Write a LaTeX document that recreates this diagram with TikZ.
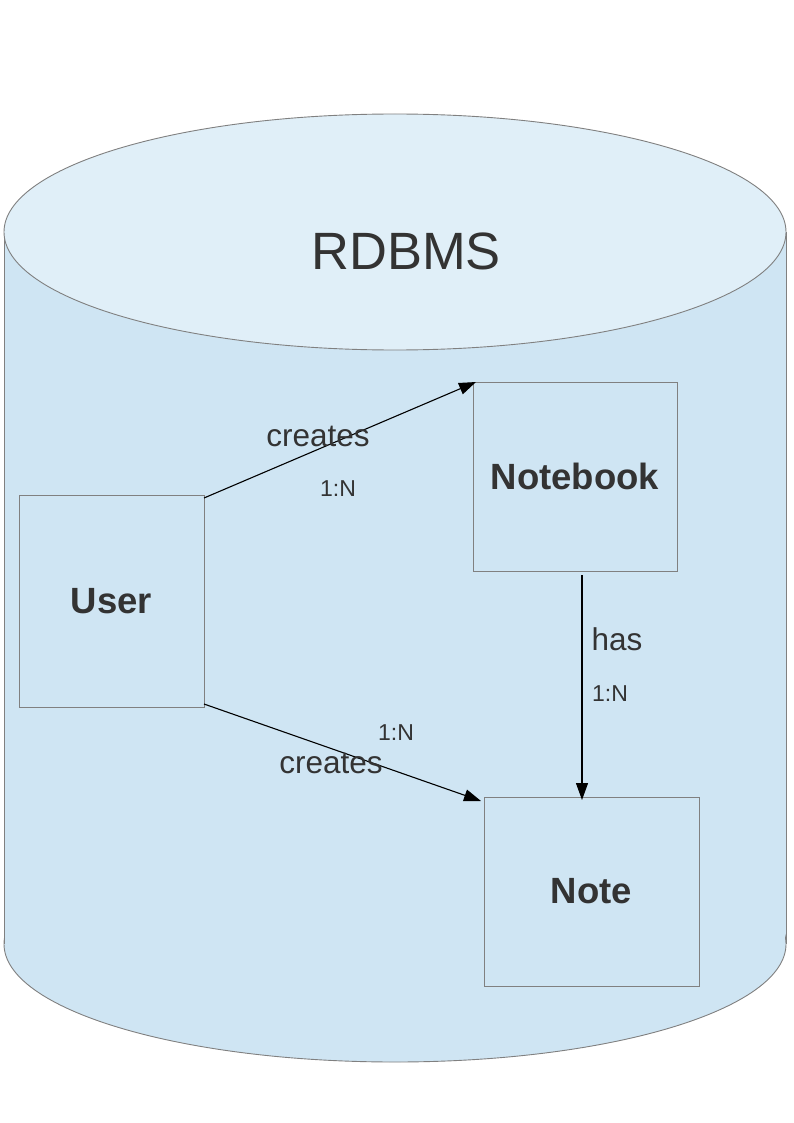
\documentclass[tikz,border=0pt]{standalone}
\usepackage{fontspec}
\setmainfont{Liberation Sans}
\usetikzlibrary{arrows.meta}
\definecolor{bodyblue}{HTML}{CFE5F3}
\definecolor{topblue}{HTML}{E0EFF8}
\definecolor{edgegray}{HTML}{808080}
\definecolor{txt}{HTML}{333333}
\tikzset{
  entity/.style={draw=edgegray, line width=0.9pt, fill=bodyblue, inner sep=0pt, outer sep=0pt,
    text=txt, font=\fontsize{36.5}{40}\selectfont\bfseries},
  lbl/.style={text=txt, inner sep=0pt, font=\fontsize{31.5}{36}\selectfont},
  card/.style={text=txt, inner sep=0pt, font=\fontsize{23}{27}\selectfont},
  rel/.style={line width=1.1pt, -{Triangle[length=17pt,width=12pt]}}
}
\begin{document}
\begin{tikzpicture}[x=1pt,y=-1pt]
\useasboundingbox (0,0) rectangle (794,1123);
\fill[white] (0,0) rectangle (794,1123);
% cylinder body
\fill[bodyblue] (4,232) rectangle (786,944);
\draw[edgegray, fill=bodyblue, line width=0.9pt] (395,944) ellipse [x radius=391, y radius=118];
\fill[bodyblue] (4.6,232) rectangle (785.4,944);
\draw[edgegray, line width=0.9pt] (4,232) -- (4,944) (786,232) -- (786,944);
\draw[edgegray, fill=topblue, line width=0.9pt] (395,232) ellipse [x radius=391, y radius=118];
\node[text=txt, inner sep=0pt, font=\fontsize{52.5}{58}\selectfont] (rdbms) at (406,251) {RDBMS};
% entities
\node[entity, minimum width=185pt, minimum height=212pt] (user) at (111.5,601) {User};
\node[entity, minimum width=204pt, minimum height=189pt] (notebook) at (575,476.5) {Notebook};
\node[entity, minimum width=215pt, minimum height=189pt] (note) at (591.5,891.5) {Note};
% relations
\draw[rel] ([yshift=-3pt]user.north east) -- ([xshift=3pt]notebook.north west);
\draw[rel] ([yshift=3pt]user.south east) -- ([yshift=-4pt,xshift=-3pt]note.north west);
\draw[rel] ([xshift=7pt,yshift=-4pt]notebook.south) -- ([xshift=7pt,yshift=-3pt]notebook.south |- note.north);
% labels
\node[lbl] (c1) at (318,436) {creates};
\node[card] (n1) at (338,489) {1:N};
\node[lbl] (has) at (617,639) {has};
\node[card] (n2) at (610,694) {1:N};
\node[card] (n3) at (396,733) {1:N};
\node[lbl] (c2) at (331,763) {creates};
\end{tikzpicture}
\end{document}
